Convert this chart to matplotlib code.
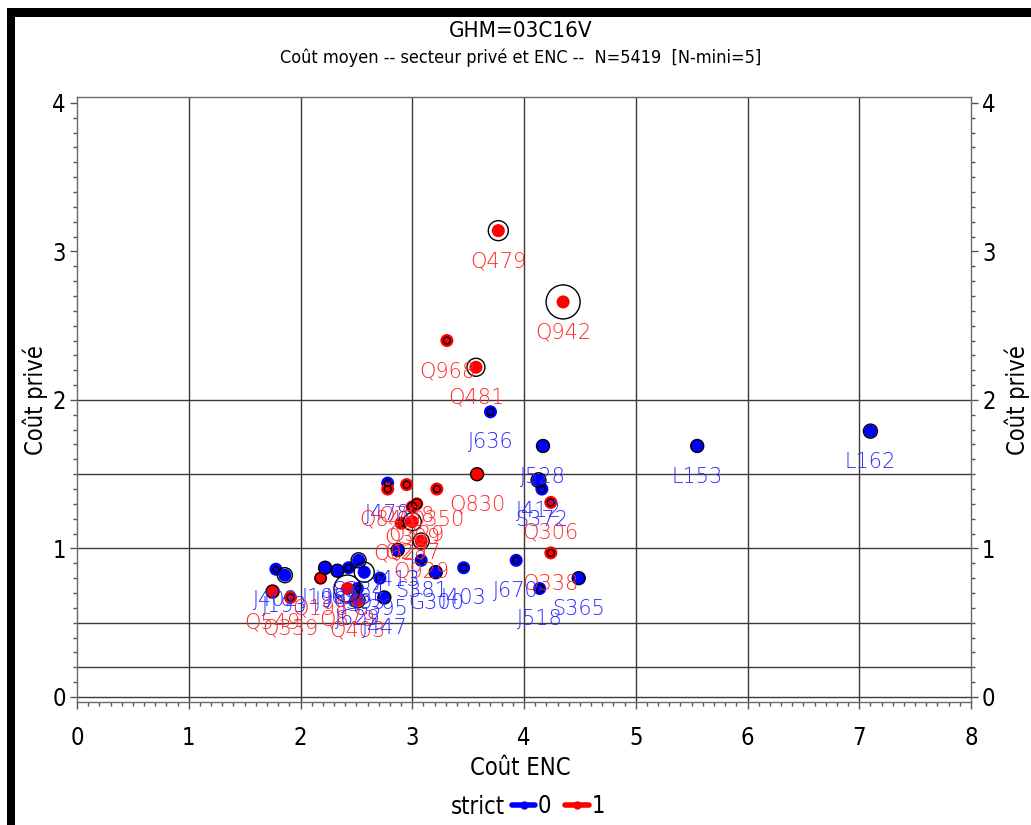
import numpy as np
import matplotlib
matplotlib.use("Agg")
import matplotlib.pyplot as plt
from matplotlib.lines import Line2D
from matplotlib.patches import Rectangle

plt.rcParams['font.family'] = ['DejaVu Sans']
plt.rcParams['font.stretch'] = 'condensed'

# établissements : code, strict, coût ENC, coût privé, effectif
codes = ['Q479', 'Q942', 'Q968', 'Q481', 'J636', 'J528', 'L153', 'L162',
         'Q830', 'J412', 'S372', 'Q306', 'Q338', 'J670', 'S365', 'J518',
         'J478', 'Q848', 'Q788', 'Q350', 'Q309', 'Q329', 'Q627', 'Q287',
         'Q929', 'J413', 'S381', 'G300', 'J403', 'J402', 'J193', 'J198',
         'J968', 'J626', 'S384', 'J395', 'Q198', 'G395', 'Q549', 'Q339',
         'Q879', 'J629', 'Q403', 'J447']
strict = [1, 1, 1, 1, 0, 0, 0, 0,
          1, 0, 0, 1, 1, 0, 0, 0,
          0, 1, 1, 1, 1, 1, 1, 1,
          1, 0, 0, 0, 0, 0, 0, 0,
          0, 0, 0, 0, 1, 0, 1, 1,
          1, 0, 1, 0]
cout_enc = [3.77, 4.35, 3.31, 3.57, 3.70, 4.17, 5.55, 7.10,
            3.58, 4.13, 4.16, 4.24, 4.24, 3.93, 4.49, 4.14,
            2.78, 2.78, 2.95, 3.22, 3.00, 3.04, 2.90, 3.00,
            3.08, 2.87, 3.08, 3.21, 3.46, 1.78, 1.86, 2.22,
            2.33, 2.43, 2.52, 2.57, 2.18, 2.71, 1.75, 1.91,
            2.42, 2.51, 2.51, 2.75]
cout_prive = [3.14, 2.66, 2.40, 2.22, 1.92, 1.69, 1.69, 1.79,
              1.50, 1.46, 1.40, 1.31, 0.97, 0.92, 0.80, 0.73,
              1.44, 1.40, 1.43, 1.40, 1.28, 1.30, 1.17, 1.18,
              1.05, 0.99, 0.92, 0.84, 0.87, 0.86, 0.82, 0.87,
              0.85, 0.87, 0.92, 0.84, 0.80, 0.80, 0.71, 0.67,
              0.73, 0.73, 0.65, 0.67]
effectif = [83, 240, 10, 67, 10, 35, 35, 41,
            35, 45, 10, 10, 10, 10, 35, 13,
            10, 10, 10, 10, 17, 21, 10, 67,
            53, 35, 10, 35, 10, 7, 47, 35,
            35, 10, 47, 83, 25, 10, 35, 10,
            151, 7, 47, 35]

fig = plt.figure(figsize=(10.31, 8.25), dpi=100)
ax = fig.add_axes([77 / 1031, 1 - 702 / 825, 894 / 1031, 605 / 825])

couleurs = {0: '#0000ff', 1: '#ff0000'}
textes = {0: '#2a2aff', 1: '#ff2a2a'}
gris = '#3a3a3a'

# grille : verticales aux entiers, horizontales à des seuils fixes
for xv in range(1, 8):
    ax.axvline(xv, color=gris, lw=1.0, zorder=1)
for yv in [0, 0.2, 0.5, 1, 1.5, 2]:
    ax.axhline(yv, color=gris, lw=1.0, zorder=1)

x = np.array(cout_enc)
y = np.array(cout_prive)
s = np.array(strict)
e = np.array(effectif)

for k in (0, 1):
    m = s == k
    ax.scatter(x[m], y[m], s=88, color=couleurs[k], edgecolors='none', zorder=3)
ax.scatter(x, y, s=2.5 * e, facecolors='none', edgecolors='black', linewidths=1.0, zorder=4)

for c, xi, yi, si in zip(codes, cout_enc, cout_prive, strict):
    ax.annotate(c, (xi, yi), xytext=(0, -22), textcoords='offset points',
                ha='center', va='center', fontsize=15, color=textes[si],
                family=['DejaVu Sans'], fontstretch='normal', fontweight='light',
                zorder=5)

ax.set_xlim(0, 8)
ax.set_ylim(-0.034, 4.04)
ax.set_xticks(range(9))
ax.set_xticks(np.arange(0, 8.01, 0.1), minor=True)
ax.set_yticks(range(5))
ax.set_yticks(np.arange(0, 4.01, 0.1), minor=True)
ax.tick_params(which='both', direction='out', color='#555555', labelsize=17,
               right=True, labelright=True)
ax.tick_params(which='major', length=5, width=1)
ax.tick_params(which='minor', length=3, width=1)
ax.tick_params(axis='x', pad=12)
ax.tick_params(axis='y', pad=3)
for sp in ax.spines.values():
    sp.set_color('#6a6a6a')
    sp.set_linewidth(1.0)

fig.text(0.0345, 0.515, 'Coût privé', rotation=90, ha='center', va='center', fontsize=17)
fig.text(0.987, 0.515, 'Coût privé', rotation=90, ha='center', va='center', fontsize=17)
fig.text(0.505, 1 - 768 / 825, 'Coût ENC', ha='center', va='center', fontsize=17)

fig.text(0.505, 1 - 31 / 825, 'GHM=03C16V', ha='center', va='center', fontsize=16)
fig.text(0.505, 1 - 58 / 825, 'Coût moyen -- secteur privé et ENC --  N=5419  [N-mini=5]',
         ha='center', va='center', fontsize=13)

# légende en bas
fig.text(478 / 1031, 1 - 807 / 825, 'strict', ha='center', va='center', fontsize=17)
poignees = [Line2D([], [], color=couleurs[k], lw=4, solid_capstyle='round',
                   marker='o', markersize=5) for k in (0, 1)]
fig.legend(poignees, ['0', '1'], loc='center left', ncol=2, frameon=False,
           bbox_to_anchor=(500 / 1031, 1 - 806 / 825), fontsize=17,
           handlelength=1.0, handletextpad=0.1, columnspacing=0.6, borderpad=0)

# bordure noire épaisse en haut et à gauche
fig.add_artist(Rectangle((7 / 1031, 0), 8 / 1031, 1 - 8 / 825, transform=fig.transFigure,
                         color='black', lw=0))
fig.add_artist(Rectangle((7 / 1031, 1 - 17 / 825), 1, 9 / 825, transform=fig.transFigure,
                         color='black', lw=0))

fig.savefig('out.png', dpi=100)
